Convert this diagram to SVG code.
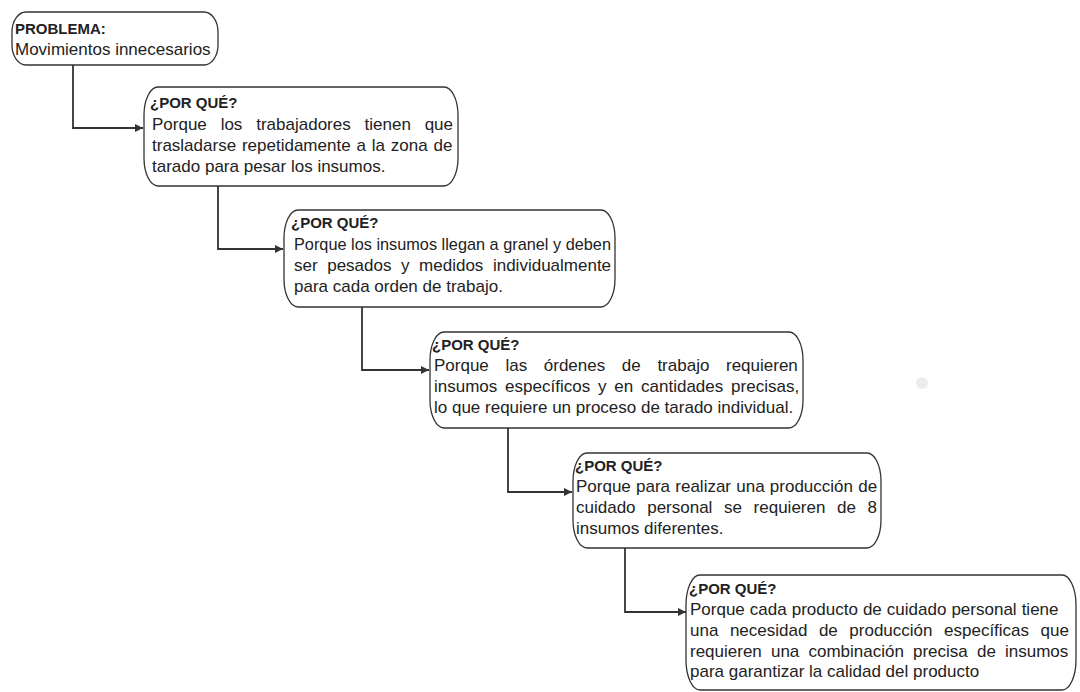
<svg xmlns="http://www.w3.org/2000/svg" width="1080" height="692" viewBox="0 0 1080 692">
<defs>
<marker id="arr" markerUnits="userSpaceOnUse" markerWidth="9" markerHeight="8" refX="8" refY="4" orient="auto">
<path d="M0,0 L8,4 L0,8 z" fill="#333"/>
</marker>
<style>
.box{fill:#fff;stroke:#333;stroke-width:1.3}
.t{font-family:"Liberation Sans",Arial,sans-serif;font-size:17px;fill:#222}
.h{font-family:"Liberation Sans",Arial,sans-serif;font-size:15px;font-weight:bold;fill:#222}
.c{fill:none;stroke:#333;stroke-width:1.8}
</style>
</defs>
<rect width="1080" height="692" fill="#fff"/>
<circle cx="922" cy="383" r="6" fill="#ececec"/>
<g id="connectors">
<path class="c" d="M73,65 V128 H143" marker-end="url(#arr)"/>
<path class="c" d="M218,186 V249 H283" marker-end="url(#arr)"/>
<path class="c" d="M362,307 V370 H429" marker-end="url(#arr)"/>
<path class="c" d="M508,428 V492 H572" marker-end="url(#arr)"/>
<path class="c" d="M625,548 V612 H686" marker-end="url(#arr)"/>
</g>
<g id="n0">
<rect class="box" x="12" y="12" width="206" height="53" rx="14" ry="20"/>
<text class="h" x="15" y="34">PROBLEMA:</text>
<text class="t" x="15" y="55">Movimientos innecesarios</text>
</g>
<g id="n1">
<rect class="box" x="144" y="87" width="314" height="99" rx="14" ry="28"/>
<text class="h" x="150" y="108">¿POR QUÉ?</text>
<text class="t" x="152" y="130" word-spacing="9.1">Porque los trabajadores tienen que</text>
<text class="t" x="152" y="151" word-spacing="1.1">trasladarse repetidamente a la zona de</text>
<text class="t" x="152" y="172">tarado para pesar los insumos.</text>
</g>
<g id="n2">
<rect class="box" x="284" y="210" width="331" height="97" rx="14" ry="28"/>
<text class="h" x="291" y="228">¿POR QUÉ?</text>
<text class="t" x="294" y="250" textLength="317" lengthAdjust="spacingAndGlyphs">Porque los insumos llegan a granel y deben</text>
<text class="t" x="294" y="271" word-spacing="4.85">ser pesados y medidos individualmente</text>
<text class="t" x="294" y="292">para cada orden de trabajo.</text>
</g>
<g id="n3">
<rect class="box" x="430" y="332" width="373" height="96" rx="14" ry="28"/>
<text class="h" x="432" y="350">¿POR QUÉ?</text>
<text class="t" x="434" y="371" word-spacing="11.9">Porque las órdenes de trabajo requieren</text>
<text class="t" x="434" y="392" word-spacing="3.1">insumos específicos y en cantidades precisas,</text>
<text class="t" x="434" y="413">lo que requiere un proceso de tarado individual.</text>
</g>
<g id="n4">
<rect class="box" x="573" y="453" width="308" height="95" rx="14" ry="28"/>
<text class="h" x="575" y="471">¿POR QUÉ?</text>
<text class="t" x="576" y="492" word-spacing="0.5">Porque para realizar una producción de</text>
<text class="t" x="576" y="513" word-spacing="6.9">cuidado personal se requieren de 8</text>
<text class="t" x="576" y="534">insumos diferentes.</text>
</g>
<g id="n5">
<rect class="box" x="686" y="575" width="390" height="115" rx="14" ry="30"/>
<text class="h" x="689" y="594">¿POR QUÉ?</text>
<text class="t" x="690" y="615" word-spacing="0.3">Porque cada producto de cuidado personal tiene</text>
<text class="t" x="690" y="636" word-spacing="6.8">una necesidad de producción específicas que</text>
<text class="t" x="690" y="657" word-spacing="4.4">requieren una combinación precisa de insumos</text>
<text class="t" x="690" y="677">para garantizar la calidad del producto</text>
</g>
</svg>
